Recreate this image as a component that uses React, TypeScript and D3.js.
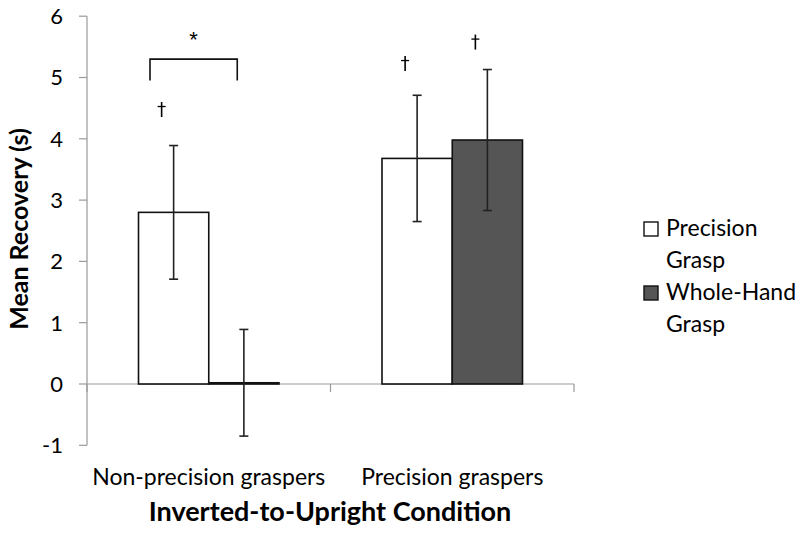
import * as d3 from "d3";

const groups = ["Non-precision graspers", "Precision graspers"];
const series = ["Precision Grasp", "Whole-Hand Grasp"];
const legendLines = [["Precision", "Grasp"], ["Whole-Hand", "Grasp"]];
const means = [
  [2.8, 0.02],
  [3.68, 3.98],
];
const errors = [
  [1.09, 0.87],
  [1.03, 1.15],
];
const yTicks = [-1, 0, 1, 2, 3, 4, 5, 6];
const fills = ["#ffffff", "#555555"];

export default function App() {
  const width = 800;
  const height = 544;
  const font = "Lato, 'Open Sans', sans-serif";

  const y = d3.scaleLinear().domain([-1, 6]).range([445.3, 16.2]);
  const x0 = d3.scaleBand().domain(groups).range([87, 574]).padding(0);
  const x1 = d3
    .scaleBand()
    .domain(series)
    .range([51.5, x0.bandwidth() - 51.5])
    .padding(0);
  const bw = x1.bandwidth();

  const g0 = x0(groups[0])!;
  const bracketLeft = g0 + x1(series[0])! + 11.5;
  const bracketRight = g0 + x1(series[1])! + 28.5;

  // dagger marks: value at the top of the glyph
  const daggers = [
    { gi: 0, si: 0, v: 4.6 },
    { gi: 1, si: 0, v: 5.35 },
    { gi: 1, si: 1, v: 5.7 },
  ];

  return (
    <svg width={width} height={height} style={{ position: "absolute", left: 0, top: 0 }}>
      <rect width={width} height={height} fill="#fff" />
      {/* y axis */}
      <line x1={87} x2={87} y1={y(6)} y2={y(-1)} stroke="#999" strokeWidth={1.2} />
      {yTicks.map((t) => (
        <g key={t}>
          <line x1={79} x2={87} y1={y(t)} y2={y(t)} stroke="#999" strokeWidth={1.2} />
          <text x={63} y={y(t)} dy="0.36em" textAnchor="end" fontFamily={font} fontSize={22} fill="#000">
            {t}
          </text>
        </g>
      ))}
      {/* x axis at zero */}
      <line x1={87} x2={574} y1={y(0)} y2={y(0)} stroke="#999" strokeWidth={1.2} />
      {[...groups.map((g) => x0(g)! + x0.bandwidth()), 87].map((px, i) => (
        <line key={i} x1={px} x2={px} y1={y(0)} y2={y(0) + 8} stroke="#999" strokeWidth={1.2} />
      ))}
      {/* bars */}
      {groups.map((g, gi) =>
        series.map((s, si) => {
          const bx = x0(g)! + x1(s)!;
          const v = means[gi][si];
          return (
            <rect
              key={g + s}
              x={bx}
              y={Math.min(y(v), y(0))}
              width={bw}
              height={Math.abs(y(0) - y(v))}
              fill={fills[si]}
              stroke="#111"
              strokeWidth={1.6}
            />
          );
        })
      )}
      {/* error bars */}
      {groups.map((g, gi) =>
        series.map((s, si) => {
          const cx = x0(g)! + x1(s)! + bw / 2;
          const v = means[gi][si];
          const e = errors[gi][si];
          return (
            <g key={"e" + g + s} stroke="#222" strokeWidth={1.6}>
              <line x1={cx} x2={cx} y1={y(v + e)} y2={y(v - e)} />
              <line x1={cx - 4.5} x2={cx + 4.5} y1={y(v + e)} y2={y(v + e)} />
              <line x1={cx - 4.5} x2={cx + 4.5} y1={y(v - e)} y2={y(v - e)} />
            </g>
          );
        })
      )}
      {/* significance bracket */}
      <path
        d={`M${bracketLeft},${y(4.95)}V${y(5.3)}H${bracketRight}V${y(4.95)}`}
        fill="none"
        stroke="#111"
        strokeWidth={1.6}
      />
      <text x={(bracketLeft + bracketRight) / 2} y={y(5.5)} textAnchor="middle" fontFamily="'Liberation Sans', sans-serif" fontSize={22} fill="#000">
        *
      </text>
      {daggers.map((d, i) => {
        const cx = x0(groups[d.gi])! + x1(series[d.si])! + bw / 2 - 12;
        const top = y(d.v);
        return (
          <g key={i} stroke="#000" fill="none">
            <path d={`M${cx},${top}V${top + 15}`} strokeWidth={1.6} />
            <path d={`M${cx - 4},${top + 4.5}H${cx + 4}`} strokeWidth={1.3} />
          </g>
        );
      })}
      {/* category labels */}
      {groups.map((g) => (
        <text key={g} x={x0(g)! + x0.bandwidth() / 2} y={485} textAnchor="middle" fontFamily={font} fontSize={23} fill="#000">
          {g}
        </text>
      ))}
      <text x={330} y={521} textAnchor="middle" fontFamily={font} fontSize={27} fontWeight="bold" fill="#000">
        Inverted-to-Upright Condition
      </text>
      <text
        transform={`translate(28,229) rotate(-90)`}
        textAnchor="middle"
        fontFamily={font}
        fontSize={25}
        fontWeight="bold"
        fill="#000"
      >
        Mean Recovery (s)
      </text>
      {/* legend */}
      {series.map((s, si) => (
        <g key={s} transform={`translate(644,${222 + si * 64})`}>
          <rect x={0} y={0} width={14} height={14} fill={fills[si]} stroke="#111" strokeWidth={1.4} />
          {legendLines[si].map((ln, li) => (
            <text key={li} x={22} y={14 + li * 32} fontFamily={font} fontSize={23} fill="#000">
              {ln}
            </text>
          ))}
        </g>
      ))}
    </svg>
  );
}
